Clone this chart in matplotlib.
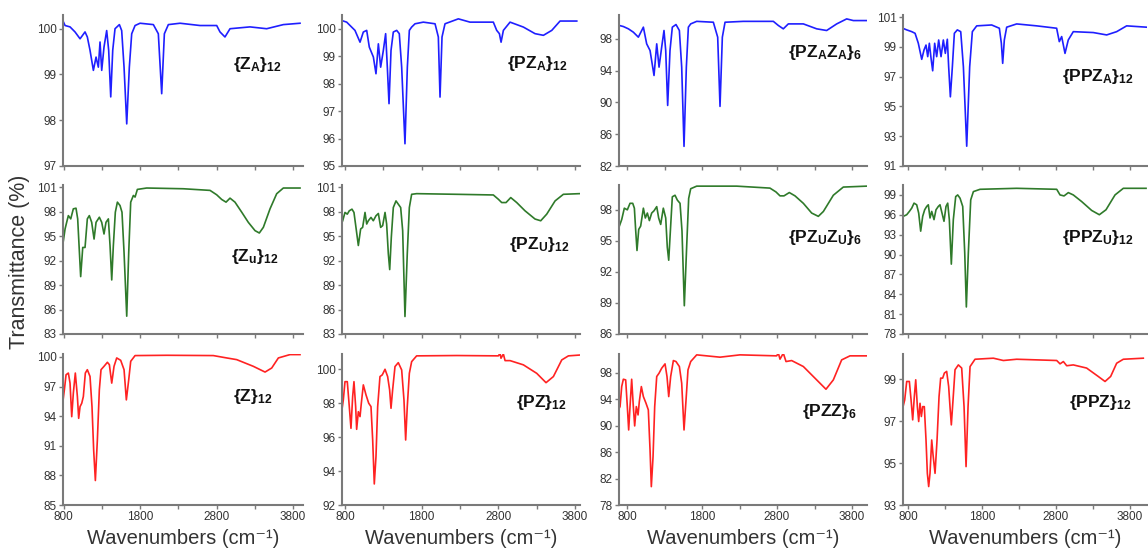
import matplotlib
matplotlib.use('Agg')
import matplotlib.pyplot as plt

plt.rcParams['font.family'] = ['Liberation Sans', 'DejaVu Sans']
plt.rcParams['mathtext.default'] = 'regular'

# ---------------- data (wavenumber cm-1, transmittance %) ----------------
za_wn = [790, 820, 885, 950, 1016, 1081, 1111, 1146, 1190, 1225, 1255, 1277, 1299, 1329, 1364, 1390, 1417, 1443,
         1473, 1530, 1560, 1591, 1626, 1660, 1691, 1735, 1800, 1974, 2039, 2083, 2118, 2170, 2323, 2584, 2802,
         2845, 2910, 2976, 3237, 3455, 3673, 3891]
za_t = [100.18, 100.07, 100.04, 99.93, 99.78, 99.93, 99.82, 99.53, 99.09, 99.38, 99.16, 99.71, 99.09, 99.6, 99.96,
        99.53, 98.51, 99.53, 100.0, 100.09, 99.96, 99.16, 97.92, 99.16, 99.89, 100.07, 100.12, 100.09, 99.89, 98.58,
        99.89, 100.09, 100.12, 100.07, 100.07, 99.93, 99.82, 100.0, 100.04, 100.0, 100.09, 100.12]

pza_wn = [757, 822, 865, 930, 996, 1039, 1083, 1117, 1170, 1204, 1235, 1265, 1300, 1330, 1352, 1374, 1400, 1430,
          1474, 1508, 1539, 1582, 1613, 1639, 1669, 1713, 1821, 1974, 2017, 2039, 2065, 2104, 2278, 2430, 2734,
          2778, 2813, 2835, 2865, 2952, 3126, 3278, 3387, 3496, 3604, 3822]
pza_t = [100.3, 100.24, 100.12, 99.94, 99.51, 99.88, 99.94, 99.33, 98.97, 98.36, 99.45, 98.6, 99.21, 99.82, 98.6,
         97.27, 99.21, 99.88, 99.94, 99.82, 98.6, 95.81, 98.6, 99.94, 100.06, 100.18, 100.24, 100.18, 99.7, 97.51,
         99.7, 100.18, 100.36, 100.24, 100.24, 99.94, 99.82, 99.51, 99.94, 100.24, 100.06, 99.82, 99.76, 99.94,
         100.28, 100.28]

pzaza_wn = [698, 751, 818, 884, 951, 1018, 1062, 1107, 1160, 1196, 1227, 1262, 1293, 1316, 1342, 1373, 1404, 1453,
            1498, 1529, 1560, 1591, 1618, 1649, 1729, 1951, 2009, 2040, 2071, 2107, 2351, 2751, 2818, 2884, 2951,
            3151, 3329, 3462, 3596, 3729, 3818, 3995]
pzaza_t = [99.68, 99.55, 99.26, 98.84, 98.21, 99.47, 97.37, 96.53, 93.39, 97.37, 94.44, 96.95, 99.05, 96.53, 89.62,
           96.53, 99.47, 99.8, 99.05, 94.44, 84.47, 94.44, 99.47, 99.88, 100.2, 100.09, 98.21, 89.5, 98.21, 100.09,
           100.2, 100.2, 99.68, 99.26, 99.88, 99.88, 99.26, 99.05, 99.88, 100.51, 100.3, 100.3]

ppza_wn = [728, 782, 850, 895, 939, 985, 1016, 1043, 1066, 1088, 1111, 1133, 1160, 1187, 1214, 1246, 1277, 1304,
           1331, 1349, 1372, 1399, 1426, 1466, 1512, 1548, 1593, 1633, 1669, 1728, 1930, 2034, 2061, 2079, 2101,
           2133, 2268, 2538, 2808, 2844, 2876, 2921, 2965, 3033, 3303, 3484, 3619, 3754, 4024]
ppza_t = [100.26, 100.15, 100.03, 99.92, 99.25, 98.17, 98.8, 99.13, 98.35, 99.25, 98.24, 97.4, 99.25, 98.35, 99.47,
          98.35, 99.47, 98.57, 99.52, 97.67, 95.65, 97.67, 99.92, 100.15, 100.03, 97.67, 92.33, 97.67, 100.03,
          100.42, 100.48, 100.26, 99.25, 97.9, 99.47, 100.33, 100.55, 100.42, 100.26, 99.36, 99.7, 98.57, 99.47,
          100.03, 99.97, 99.81, 100.03, 100.42, 100.33]

zu_wn = [798, 820, 841, 863, 894, 928, 963, 985, 1003, 1024, 1051, 1081, 1111, 1137, 1168, 1199, 1225, 1268, 1299,
         1329, 1355, 1386, 1408, 1430, 1451, 1477, 1504, 1538, 1564, 1591, 1626, 1652, 1678, 1713, 1735, 1765, 1887,
         2366, 2715, 2802, 2867, 2924, 2976, 3041, 3129, 3215, 3303, 3359, 3412, 3499, 3586, 3673, 3891]
zu_t = [94.42, 95.86, 96.68, 97.5, 97.1, 98.33, 98.41, 97.1, 93.81, 90.03, 93.6, 93.6, 97.1, 97.5, 96.68, 94.63,
        96.68, 97.3, 96.68, 95.25, 96.68, 97.1, 93.81, 89.62, 93.81, 97.92, 99.15, 98.74, 97.92, 92.99, 85.18, 92.99,
        99.15, 99.97, 99.77, 100.71, 100.88, 100.79, 100.59, 100.05, 99.48, 99.15, 99.64, 99.15, 97.92, 96.68, 95.66,
        95.37, 96.07, 98.33, 100.18, 100.88, 100.88]

pzu_wn = [743, 770, 800, 830, 856, 891, 917, 943, 974, 1004, 1030, 1061, 1083, 1104, 1139, 1169, 1204, 1235, 1265,
          1291, 1322, 1343, 1365, 1383, 1404, 1430, 1465, 1495, 1526, 1552, 1582, 1612, 1639, 1669, 1734, 2256, 2734,
          2800, 2843, 2900, 2961, 3039, 3147, 3278, 3352, 3430, 3539, 3647, 3856]
pzu_t = [96.27, 96.87, 97.89, 97.68, 98.09, 98.29, 97.89, 96.06, 93.84, 95.86, 96.06, 97.89, 96.47, 96.87, 97.28,
         96.87, 97.48, 97.76, 96.06, 96.27, 97.89, 96.47, 92.83, 90.89, 94.85, 98.49, 99.3, 98.9, 98.49, 95.66,
         85.14, 92.83, 98.49, 100.11, 100.19, 100.11, 100.03, 99.5, 99.1, 99.1, 99.71, 99.1, 98.09, 97.08, 96.87,
         97.68, 99.3, 100.11, 100.19]

pzuzu_wn = [698, 729, 764, 804, 840, 876, 898, 916, 933, 956, 982, 1018, 1044, 1071, 1098, 1129, 1160, 1196, 1222,
            1249, 1284, 1316, 1337, 1356, 1378, 1404, 1440, 1471, 1507, 1533, 1564, 1595, 1622, 1649, 1729, 2262,
            2706, 2786, 2840, 2893, 2964, 3040, 3151, 3262, 3351, 3418, 3551, 3684, 3995]
pzuzu_t = [96.43, 97.06, 98.16, 98.0, 98.63, 98.63, 98.16, 95.96, 94.07, 96.11, 96.43, 98.16, 97.21, 97.69, 96.96,
           97.69, 97.91, 98.31, 97.21, 96.59, 98.16, 97.21, 94.39, 93.13, 95.96, 99.26, 99.41, 98.94, 98.63, 95.96,
           88.73, 94.39, 99.1, 100.04, 100.29, 100.29, 100.1, 99.73, 99.35, 99.35, 99.67, 99.35, 98.63, 97.69, 97.37,
           97.84, 99.41, 100.2, 100.29]

ppzu_wn = [737, 782, 818, 850, 881, 917, 944, 971, 998, 1025, 1052, 1074, 1097, 1120, 1151, 1178, 1209, 1232, 1259,
           1286, 1313, 1336, 1358, 1385, 1412, 1444, 1471, 1503, 1539, 1566, 1588, 1615, 1647, 1683, 1773, 2268, 2809,
           2854, 2908, 2966, 3033, 3146, 3281, 3385, 3475, 3597, 3709, 4016]
ppzu_t = [95.77, 96.01, 96.51, 97.01, 97.76, 97.51, 96.26, 93.53, 95.77, 96.76, 97.26, 97.51, 95.52, 96.51, 95.27,
          96.76, 97.26, 97.51, 96.26, 95.02, 97.26, 97.76, 95.27, 88.55, 95.27, 98.75, 99.0, 98.5, 97.26, 90.29,
          82.08, 90.29, 98.25, 99.5, 99.85, 100.0, 99.85, 99.0, 98.85, 99.35, 99.0, 98.0, 96.66, 96.01, 96.76, 99.0,
          100.0, 100.0]

z_wn = [789, 811, 833, 863, 885, 907, 928, 954, 981, 998, 1016, 1038, 1059, 1085, 1111, 1146, 1172, 1194, 1216,
        1242, 1268, 1290, 1329, 1373, 1399, 1430, 1460, 1495, 1547, 1591, 1621, 1652, 1678, 1735, 2149, 2758, 2933,
        3063, 3281, 3434, 3521, 3608, 3760, 3891]
z_t = [95.31, 96.67, 98.2, 98.37, 97.35, 93.95, 96.33, 98.37, 95.99, 93.78, 94.97, 95.31, 95.99, 98.37, 98.71,
       98.03, 94.97, 90.54, 87.48, 91.56, 96.67, 98.71, 99.05, 99.46, 99.22, 97.35, 99.05, 99.9, 99.66, 98.71, 95.65,
       97.69, 99.56, 100.14, 100.17, 100.14, 99.9, 99.73, 99.05, 98.47, 98.88, 99.9, 100.24, 100.24]

pz_wn = [757, 778, 800, 830, 856, 878, 900, 917, 939, 952, 974, 996, 1013, 1039, 1074, 1109, 1139, 1161, 1182, 1204,
         1226, 1256, 1286, 1322, 1356, 1382, 1400, 1421, 1452, 1495, 1539, 1569, 1591, 1612, 1639, 1669, 1734, 2256,
         2800, 2821, 2834, 2865, 2887, 2952, 3126, 3300, 3421, 3517, 3626, 3713, 3865]
pz_t = [97.5, 98.19, 99.27, 99.27, 97.8, 96.52, 98.39, 99.27, 97.8, 96.46, 97.5, 97.21, 98.0, 99.08, 98.49, 98.0,
        97.8, 95.83, 93.24, 94.85, 97.8, 99.57, 99.67, 100.0, 99.57, 98.78, 97.7, 98.78, 100.16, 100.39, 99.96,
        98.19, 95.83, 97.8, 99.76, 100.45, 100.79, 100.81, 100.79, 100.94, 100.65, 100.9, 100.51, 100.51, 100.26,
        99.76, 99.21, 99.57, 100.55, 100.79, 100.84]

pzz_wn = [684, 707, 729, 751, 782, 804, 822, 840, 862, 884, 902, 924, 947, 964, 991, 1018, 1053, 1084, 1107, 1124,
          1147, 1169, 1196, 1227, 1262, 1307, 1333, 1356, 1382, 1418, 1453, 1498, 1529, 1560, 1587, 1613, 1649, 1729,
          2040, 2306, 2795, 2818, 2840, 2884, 2920, 2995, 3151, 3329, 3453, 3551, 3662, 3773, 3995]
pzz_t = [92.36, 92.86, 95.88, 96.99, 96.89, 92.86, 89.33, 92.86, 96.99, 92.86, 89.94, 92.86, 91.6, 93.62, 95.88,
         94.37, 93.37, 92.36, 86.31, 80.77, 85.3, 92.86, 97.4, 97.9, 98.65, 99.31, 97.4, 94.37, 97.4, 99.81, 99.66,
         98.91, 96.39, 89.33, 93.87, 98.4, 99.66, 100.67, 100.32, 100.67, 100.52, 100.92, 100.02, 100.92, 99.66,
         99.81, 98.91, 96.89, 95.48, 96.89, 99.91, 100.52, 100.52]

ppz_wn = [728, 755, 782, 818, 841, 863, 885, 904, 926, 944, 962, 980, 998, 1020, 1043, 1061, 1079, 1097, 1120, 1138,
          1165, 1192, 1219, 1241, 1268, 1291, 1322, 1349, 1367, 1385, 1408, 1435, 1480, 1525, 1557, 1584, 1611, 1638,
          1705, 1953, 2088, 2268, 2809, 2854, 2899, 2944, 3033, 3213, 3370, 3462, 3538, 3619, 3709, 3979]
ppz_t = [97.62, 98.01, 98.89, 98.89, 98.01, 97.06, 98.17, 98.97, 97.69, 96.98, 97.85, 97.22, 97.69, 97.69, 96.1,
         94.51, 93.88, 94.51, 96.1, 95.39, 94.51, 96.1, 98.17, 99.05, 99.05, 99.29, 99.37, 98.65, 97.69, 96.82,
         98.01, 99.45, 99.68, 99.53, 97.69, 94.83, 97.69, 99.6, 99.95, 100.0, 99.89, 99.95, 99.89, 99.73, 99.84,
         99.64, 99.68, 99.53, 99.13, 98.89, 99.13, 99.76, 99.95, 100.0]

labels = [
    [r'{Z$_\mathregular{A}$}$_\mathregular{12}$', r'{PZ$_\mathregular{A}$}$_\mathregular{12}$',
     r'{PZ$_\mathregular{A}$Z$_\mathregular{A}$}$_\mathregular{6}$', r'{PPZ$_\mathregular{A}$}$_\mathregular{12}$'],
    [r'{Z$_\mathregular{u}$}$_\mathregular{12}$', r'{PZ$_\mathregular{U}$}$_\mathregular{12}$',
     r'{PZ$_\mathregular{U}$Z$_\mathregular{U}$}$_\mathregular{6}$', r'{PPZ$_\mathregular{U}$}$_\mathregular{12}$'],
    [r'{Z}$_\mathregular{12}$', r'{PZ}$_\mathregular{12}$', r'{PZZ}$_\mathregular{6}$', r'{PPZ}$_\mathregular{12}$'],
]

y_ticks = [
    [[97, 98, 99, 100], [95, 96, 97, 98, 99, 100], [82, 86, 90, 94, 98], [91, 93, 95, 97, 99, 101]],
    [[83, 86, 89, 92, 95, 98, 101], [83, 86, 89, 92, 95, 98, 101], [86, 89, 92, 95, 98],
     [78, 81, 84, 87, 90, 93, 96, 99]],
    [[85, 88, 91, 94, 97, 100], [92, 94, 96, 98, 100], [78, 82, 86, 90, 94, 98], [93, 95, 97, 99]],
]
y_lims = [
    [(97, 100.3), (95, 100.5), (82, 101.0), (91, 101.15)],
    [(83, 101.25), (83, 101.25), (86, 100.4), (78, 100.5)],
    [(85, 100.3), (92, 100.9), (78, 100.8), (93, 100.2)],
]
x_ticks = [800, 1300, 1800, 2300, 2800, 3300, 3800]
x_ticklabels = ['800', '', '1800', '', '2800', '', '3800']

spectra = [
    [(za_wn, za_t), (pza_wn, pza_t), (pzaza_wn, pzaza_t), (ppza_wn, ppza_t)],
    [(zu_wn, zu_t), (pzu_wn, pzu_t), (pzuzu_wn, pzuzu_t), (ppzu_wn, ppzu_t)],
    [(z_wn, z_t), (pz_wn, pz_t), (pzz_wn, pzz_t), (ppz_wn, ppz_t)],
]

# ---------------- layout / style ----------------
W, H = 1148, 556
fig = plt.figure(figsize=(W / 100, H / 100), dpi=100)

col_left = [63, 342, 619, 903]
col_w = [240, 238, 248, 244]
row_top = [15, 185, 354]
row_h = [151, 149, 151]
x_lims = [(793, 3930), (761, 3864), (693, 4000), (732, 4029)]
row_colors = ['#1f1fff', '#2f7a2a', '#ff2222']
label_pos = [
    [(0.81, 0.67), (0.82, 0.68), (0.83, 0.75), (0.80, 0.59)],
    [(0.80, 0.52), (0.83, 0.60), (0.83, 0.65), (0.80, 0.65)],
    [(0.79, 0.72), (0.84, 0.68), (0.85, 0.62), (0.81, 0.68)],
]
spine_col = '#7a7a7a'
text_col = '#333333'

for r in range(3):
    for c in range(4):
        left = col_left[c] / W
        bottom = 1 - (row_top[r] + row_h[r]) / H
        ax = fig.add_axes([left, bottom, col_w[c] / W, row_h[r] / H])
        wn, t = spectra[r][c]
        ax.plot(wn, t, color=row_colors[r], lw=1.2)
        ax.set_xlim(*x_lims[c])
        ax.set_ylim(*y_lims[r][c])
        ax.set_yticks(y_ticks[r][c])
        ax.set_xticks(x_ticks)
        if r == 2:
            ax.set_xticklabels(x_ticklabels)
            ax.set_xlabel('Wavenumbers (cm\u207b\u00b9)', fontsize=14.5, color=text_col, labelpad=4)
        else:
            ax.set_xticklabels([])
        for s in ['top', 'right']:
            ax.spines[s].set_visible(False)
        for s in ['left', 'bottom']:
            ax.spines[s].set_color(spine_col)
            ax.spines[s].set_linewidth(1.5)
        ax.tick_params(direction='out', length=3, width=1, color=spine_col, labelsize=8.5,
                       labelcolor=text_col, pad=1.5)
        lx, ly = label_pos[r][c]
        ax.text(lx, ly, labels[r][c], transform=ax.transAxes, ha='center', va='center',
                fontsize=12.5, fontweight='bold', color='#111111')

fig.text(20 / W, 1 - 262 / H, 'Transmittance (%)', rotation=90, ha='center', va='center',
         fontsize=15.5, color=text_col)

fig.savefig('out.png', dpi=100)
